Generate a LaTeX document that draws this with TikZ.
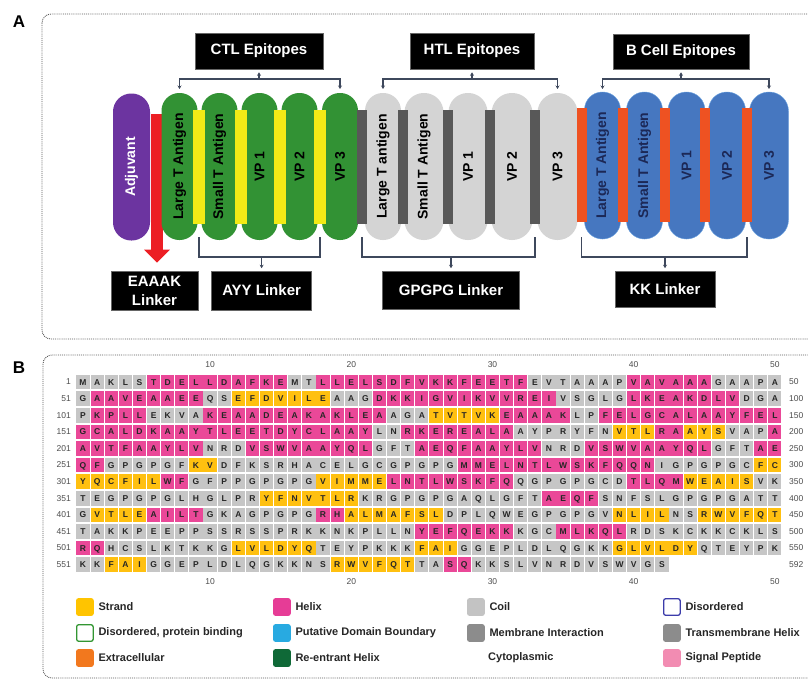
\documentclass[tikz,border=0pt]{standalone}
\usepackage{fontspec}
\setmainfont{Liberation Sans}
\usetikzlibrary{arrows.meta,positioning}

\definecolor{adjpurple}{RGB}{108,52,160}
\definecolor{eaaakred}{RGB}{236,30,36}
\definecolor{ctlgreen}{RGB}{50,146,52}
\definecolor{ayyyellow}{RGB}{242,234,22}
\definecolor{htlgray}{RGB}{212,212,212}
\definecolor{gpgdark}{RGB}{88,88,88}
\definecolor{bcblue}{RGB}{70,119,192}
\definecolor{bcedge}{RGB}{110,165,225}
\definecolor{kkorange}{RGB}{238,82,34}
\definecolor{navytext}{RGB}{28,40,86}
\definecolor{brackcol}{RGB}{62,72,92}
\definecolor{seqE}{RGB}{255,192,16}
\definecolor{seqH}{RGB}{234,72,152}
\definecolor{seqC}{RGB}{198,198,198}
\definecolor{legStrand}{RGB}{255,196,0}
\definecolor{legHelix}{RGB}{230,60,150}
\definecolor{legCoil}{RGB}{195,195,195}
\definecolor{legDisBlue}{RGB}{60,60,170}
\definecolor{legDisGreen}{RGB}{50,150,50}
\definecolor{legBoundary}{RGB}{40,170,225}
\definecolor{legMembrane}{RGB}{140,140,140}
\definecolor{legExtra}{RGB}{242,120,30}
\definecolor{legReentrant}{RGB}{15,105,55}
\definecolor{legSignal}{RGB}{242,140,178}

\tikzset{
  capsule/.style={rotate=90, minimum width=147pt, minimum height=#1,
    rounded corners=#1/2-0.3pt, inner sep=0pt, text=black,
    font=\fontsize{14}{16}\selectfont\bfseries},
  linkbar/.style={minimum width=#1, minimum height=114pt, inner sep=0pt},
  tagbox/.style={fill=black, draw=black!60, line width=0.6pt, text=white,
    align=center, inner sep=0pt, font=\fontsize{15}{19}\selectfont\bfseries},
  bracket/.style={draw=brackcol, line width=1.4pt},
  brk/.tip={Stealth[length=3.5pt,width=4pt]},
  eaaakarrow/.style={draw=eaaakred, line width=12pt,
    -{Triangle[width=25pt,length=13pt]}},
  frame/.style={draw=black!65, densely dotted, line width=0.9pt, rounded corners=9pt},
  panlabel/.style={font=\fontsize{17}{17}\selectfont\bfseries, inner sep=0pt},
  aa/.style={inner sep=0pt, text=black!85, text height=6.1pt, text depth=0pt,
    font=\fontsize{8.5}{9}\selectfont\bfseries},
  seqnum/.style={inner sep=0pt, text=black!70, font=\fontsize{8.5}{9}\selectfont},
  legsq/.style={minimum size=16.5pt, inner sep=0pt, rounded corners=2pt, line width=1.3pt},
  legtext/.style={inner sep=0pt, anchor=west, text=black!85,
    font=\fontsize{11}{12}\selectfont\bfseries}
}

% one row of the sequence: row, colour runs, residues
\newcommand\seqrow[3]{%
  \foreach \a/\b/\k in {#2}
    \foreach \j in {\a,...,\b}
      \fill[\k] ({76.4+(\j-1)*14.12},{374.7+(#1-1)*16.6}) rectangle ++(13.2,14.6);
  \foreach \l [count=\j] in {#3}
    \node[aa] (aa-#1-\j) at ({83+(\j-1)*14.12},{382+(#1-1)*16.6}) {\l};
}

\begin{document}
\begin{tikzpicture}[x=1pt,y=-1pt]
\useasboundingbox (0,0) rectangle (808,680);

% panels
\draw[frame] (42,14) rectangle (830,339);
\draw[frame] (43,355) rectangle (830,678);
\node[panlabel] (labA) at (19,22) {A};
\node[panlabel] (labB) at (19,368) {B};

% labels
\node[tagbox, minimum width=128pt, minimum height=36pt] (ctlbox) at (259,51) {CTL Epitopes};
\node[tagbox, minimum width=124pt, minimum height=36pt] (htlbox) at (472,51) {HTL Epitopes};
\node[tagbox, minimum width=136pt, minimum height=35pt] (bcbox) at (681,51.5) {B Cell Epitopes};
\node[tagbox, minimum width=87pt, minimum height=39pt] (eaaakbox) at (154.5,290.5) {EAAAK\\Linker};
\node[tagbox, minimum width=100pt, minimum height=39pt, right=13pt of eaaakbox] (ayybox) {AYY Linker};
\node[tagbox, minimum width=137pt, minimum height=38pt] (gpgbox) at (451,290) {GPGPG Linker};
\node[tagbox, minimum width=100pt, minimum height=36pt] (kkbox) at (665,289) {KK Linker};

% adjuvant + EAAAK
\node[capsule=37pt, fill=adjpurple, text=white] (adj) at (131.5,167) {Adjuvant};
\coordinate (redtop) at (157,114);
\draw[eaaakarrow, shorten >=8pt] (redtop) -- (redtop |- eaaakbox.north);

% CTL epitopes
\node[capsule=36pt, fill=ctlgreen] (ctlA) at (179.5,166.5) {Large T Antigen};
\node[capsule=36pt, fill=ctlgreen] (ctlB) at (219.5,166.5) {Small T Antigen};
\node[capsule=36pt, fill=ctlgreen] (ctlC) at (259.5,166.5) {VP 1};
\node[capsule=36pt, fill=ctlgreen] (ctlD) at (299.5,166.5) {VP 2};
\node[capsule=36pt, fill=ctlgreen] (ctlE) at (340,166.5) {VP 3};

% HTL epitopes
\node[capsule=36pt, fill=htlgray] (htlA) at (383,166.5) {Large T antigen};
\node[capsule=39pt, fill=htlgray] (htlB) at (424,166.5) {Small T Antigen};
\node[capsule=39pt, fill=htlgray] (htlC) at (468,166.5) {VP 1};
\node[capsule=41pt, fill=htlgray] (htlD) at (512,166.5) {VP 2};
\node[capsule=40pt, fill=htlgray] (htlE) at (557.5,166.5) {VP 3};

% B cell epitopes
\node[capsule=36pt, fill=bcblue, draw=bcedge, text=navytext] (bcA) at (602.5,165.5) {Large T Antigen};
\node[capsule=36pt, fill=bcblue, draw=bcedge, text=navytext] (bcB) at (644.5,165.5) {Small T Antigen};
\node[capsule=37pt, fill=bcblue, draw=bcedge, text=navytext] (bcC) at (686.5,165.5) {VP 1};
\node[capsule=37pt, fill=bcblue, draw=bcedge, text=navytext] (bcD) at (727,165.5) {VP 2};
\node[capsule=39pt, fill=bcblue, draw=bcedge, text=navytext] (bcE) at (769,165.5) {VP 3};

% linkers
\foreach \x [count=\i] in {199,240.5,280,320}
  \node[linkbar=12pt, fill=ayyyellow] (ayy\i) at (\x,167) {};
\foreach \x [count=\i] in {362,403,447.5,490,535}
  \node[linkbar=10pt, fill=gpgdark] (gpg\i) at (\x,167) {};
\foreach \x [count=\i] in {581.5,622.5,665,705,747}
  \node[linkbar=10pt, fill=kkorange] (kk\i) at (\x,165) {};

% brackets
\coordinate (topbar) at (0,79);
\coordinate (toptip) at (0,89);
\coordinate (lowbar) at (0,257);
\coordinate (lowtip) at (0,237);

\draw[bracket, {brk}-{brk}] (ctlA.center |- toptip) -- (ctlA.center |- topbar) -- (ctlE.center |- topbar) -- (ctlE.center |- toptip);
\draw[bracket, -{brk}, shorten >=3pt] (ctlbox.center |- topbar) -- (ctlbox.south);
\draw[bracket, {brk}-{brk}] (htlA.center |- toptip) -- (htlA.center |- topbar) -- (htlE.center |- topbar) -- (htlE.center |- toptip);
\draw[bracket, -{brk}, shorten >=3pt] (htlbox.center |- topbar) -- (htlbox.south);
\draw[bracket, {brk}-{brk}] (bcA.center |- toptip) -- (bcA.center |- topbar) -- (bcE.center |- topbar) -- (bcE.center |- toptip);
\draw[bracket, -{brk}, shorten >=3pt] (bcbox.center |- topbar) -- (bcbox.south);

\draw[bracket] (ayy1.center |- lowtip) -- (ayy1.center |- lowbar) -- (ayy4.center |- lowbar) -- (ayy4.center |- lowtip);
\draw[bracket, -{brk}, shorten >=2.5pt] (ayybox.center |- lowbar) -- (ayybox.north);
\draw[bracket] (gpg1.center |- lowtip) -- (gpg1.center |- lowbar) -- (gpg5.center |- lowbar) -- (gpg5.center |- lowtip);
\draw[bracket, -{brk}, shorten >=2.5pt] (gpgbox.center |- lowbar) -- (gpgbox.north);
\draw[bracket] (kk1.center |- lowtip) -- (kk1.center |- lowbar) -- (kk5.center |- lowbar) -- (kk5.center |- lowtip);
\draw[bracket, -{brk}, shorten >=2.5pt] (kkbox.center |- lowbar) -- (kkbox.north);

% sequence
\seqrow{1}{1/5/seqC,6/15/seqH,16/17/seqC,18/32/seqH,33/39/seqC,40/45/seqH,46/50/seqC}
  {M,A,K,L,S,T,D,E,L,L,D,A,F,K,E,M,T,L,L,E,L,S,D,F,V,K,K,F,E,E,T,F,E,V,T,A,A,A,P,V,A,V,A,A,A,G,A,A,P,A}
\seqrow{2}{1/1/seqC,2/9/seqH,10/11/seqC,12/18/seqE,19/21/seqC,22/34/seqH,35/39/seqC,40/47/seqH,48/50/seqC}
  {G,A,A,V,E,A,A,E,E,Q,S,E,F,D,V,I,L,E,A,A,G,D,K,K,I,G,V,I,K,V,V,R,E,I,V,S,G,L,G,L,K,E,A,K,D,L,V,D,G,A}
\seqrow{3}{1/1/seqC,2/5/seqH,6/9/seqC,10/22/seqH,23/25/seqC,26/30/seqE,31/35/seqH,36/37/seqC,38/50/seqH}
  {P,K,P,L,L,E,K,V,A,K,E,A,A,D,E,A,K,A,K,L,E,A,A,G,A,T,V,T,V,K,E,A,A,A,K,L,P,F,E,L,G,C,A,L,A,A,Y,F,E,L}
\seqrow{4}{1/21/seqH,22/23/seqC,24/31/seqH,32/38/seqC,39/41/seqE,42/43/seqH,44/46/seqE,47/49/seqC,50/50/seqH}
  {G,C,A,L,D,K,A,A,Y,T,L,E,E,T,D,Y,C,L,A,A,Y,L,N,R,K,E,R,E,A,L,A,A,Y,P,R,Y,F,N,V,T,L,R,A,A,Y,S,V,A,P,A}
\seqrow{5}{1/9/seqH,10/12/seqC,13/21/seqH,22/24/seqC,25/33/seqH,34/36/seqC,37/45/seqH,46/48/seqC,49/50/seqH}
  {A,V,T,F,A,A,Y,L,V,N,R,D,V,S,W,V,A,A,Y,Q,L,G,F,T,A,E,Q,F,A,A,Y,L,V,N,R,D,V,S,W,V,A,A,Y,Q,L,G,F,T,A,E}
\seqrow{6}{1/2/seqH,3/8/seqC,9/10/seqE,11/27/seqC,28/41/seqH,42/48/seqC,49/50/seqE}
  {Q,F,G,P,G,P,G,F,K,V,D,F,K,S,R,H,A,C,E,L,G,C,G,P,G,P,G,M,M,E,L,N,T,L,W,S,K,F,Q,Q,N,I,G,P,G,P,G,C,F,C}
\seqrow{7}{1/6/seqE,7/8/seqH,9/17/seqC,18/22/seqE,23/31/seqH,32/39/seqC,40/43/seqH,44/48/seqE,49/50/seqC}
  {Y,Q,C,F,I,L,W,F,G,F,P,P,G,P,G,P,G,V,I,M,M,E,L,N,T,L,W,S,K,F,Q,Q,G,P,G,P,G,C,D,T,L,Q,M,W,E,A,I,S,V,K}
\seqrow{8}{1/13/seqC,14/20/seqE,21/33/seqC,34/37/seqH,38/50/seqC}
  {T,E,G,P,G,P,G,L,H,G,L,P,R,Y,F,N,V,T,L,R,K,R,G,P,G,P,G,A,Q,L,G,F,T,A,E,Q,F,S,N,F,S,L,G,P,G,P,G,A,T,T}
\seqrow{9}{1/1/seqC,2/5/seqE,6/9/seqH,10/17/seqC,18/19/seqH,20/26/seqE,27/38/seqC,39/42/seqE,43/44/seqC,45/50/seqE}
  {G,V,T,L,E,A,I,L,T,G,K,A,G,P,G,P,G,R,H,A,L,M,A,F,S,L,D,P,L,Q,W,E,G,P,G,P,G,V,N,L,I,L,N,S,R,W,V,F,Q,T}
\seqrow{10}{1/24/seqC,25/31/seqH,32/34/seqC,35/39/seqH,40/50/seqC}
  {T,A,K,K,P,E,E,P,P,S,S,R,S,S,P,R,K,K,N,K,P,L,L,N,Y,E,F,Q,E,K,K,K,G,C,M,L,K,Q,L,R,D,S,K,C,K,K,C,K,L,S}
\seqrow{11}{1/2/seqH,3/11/seqC,12/17/seqE,18/24/seqC,25/27/seqE,28/38/seqC,39/44/seqE,45/50/seqC}
  {R,Q,H,C,S,L,K,T,K,K,G,L,V,L,D,Y,Q,T,E,Y,P,K,K,K,F,A,I,G,G,E,P,L,D,L,Q,G,K,K,G,L,V,L,D,Y,Q,T,E,Y,P,K}
\seqrow{12}{1/2/seqC,3/5/seqE,6/18/seqC,19/24/seqE,25/26/seqC,27/28/seqH,29/42/seqC}
  {K,K,F,A,I,G,G,E,P,L,D,L,Q,G,K,K,N,S,R,W,V,F,Q,T,T,A,S,Q,K,K,S,L,V,N,R,D,V,S,W,V,G,S}

% numbering
\foreach \n in {10,20,30,40,50} {
  \node[seqnum] (rt\n) at ({83+(\n-1)*14.12},365) {\n};
  \node[seqnum] (rb\n) at ({83+(\n-1)*14.12},582) {\n};
}
\foreach \s/\e [count=\r] in {1/50,51/100,101/150,151/200,201/250,251/300,301/350,351/400,401/450,451/500,501/550,551/592} {
  \node[seqnum, anchor=east] (nl\r) at (71,{382+(\r-1)*16.6}) {\s};
  \node[seqnum, anchor=west] (nr\r) at (789,{382+(\r-1)*16.6}) {\e};
}

% legend
\foreach \lx/\ly/\fc/\dc/\txt [count=\i] in {
   76/607/legStrand/legStrand/Strand,
   273/607/legHelix/legHelix/Helix,
   467/607/legCoil/legCoil/Coil,
   663/607/white/legDisBlue/Disordered,
   76/633/white/legDisGreen/{Disordered, protein binding},
   273/633/legBoundary/legBoundary/Putative Domain Boundary,
   467/633/legMembrane/legMembrane/Membrane Interaction,
   663/633/legMembrane/legMembrane/Transmembrane Helix,
   76/658/legExtra/legExtra/Extracellular,
   273/658/legReentrant/legReentrant/Re-entrant Helix,
   663/658/legSignal/legSignal/Signal Peptide} {
  \node[legsq, fill=\fc, draw=\dc, anchor=west] (leg\i) at (\lx,\ly) {};
  \node[legtext, right=4.5pt of leg\i] (legt\i) {\txt};
}
\node[legtext] (legcyto) at (488,658) {Cytoplasmic};

\end{tikzpicture}
\end{document}
